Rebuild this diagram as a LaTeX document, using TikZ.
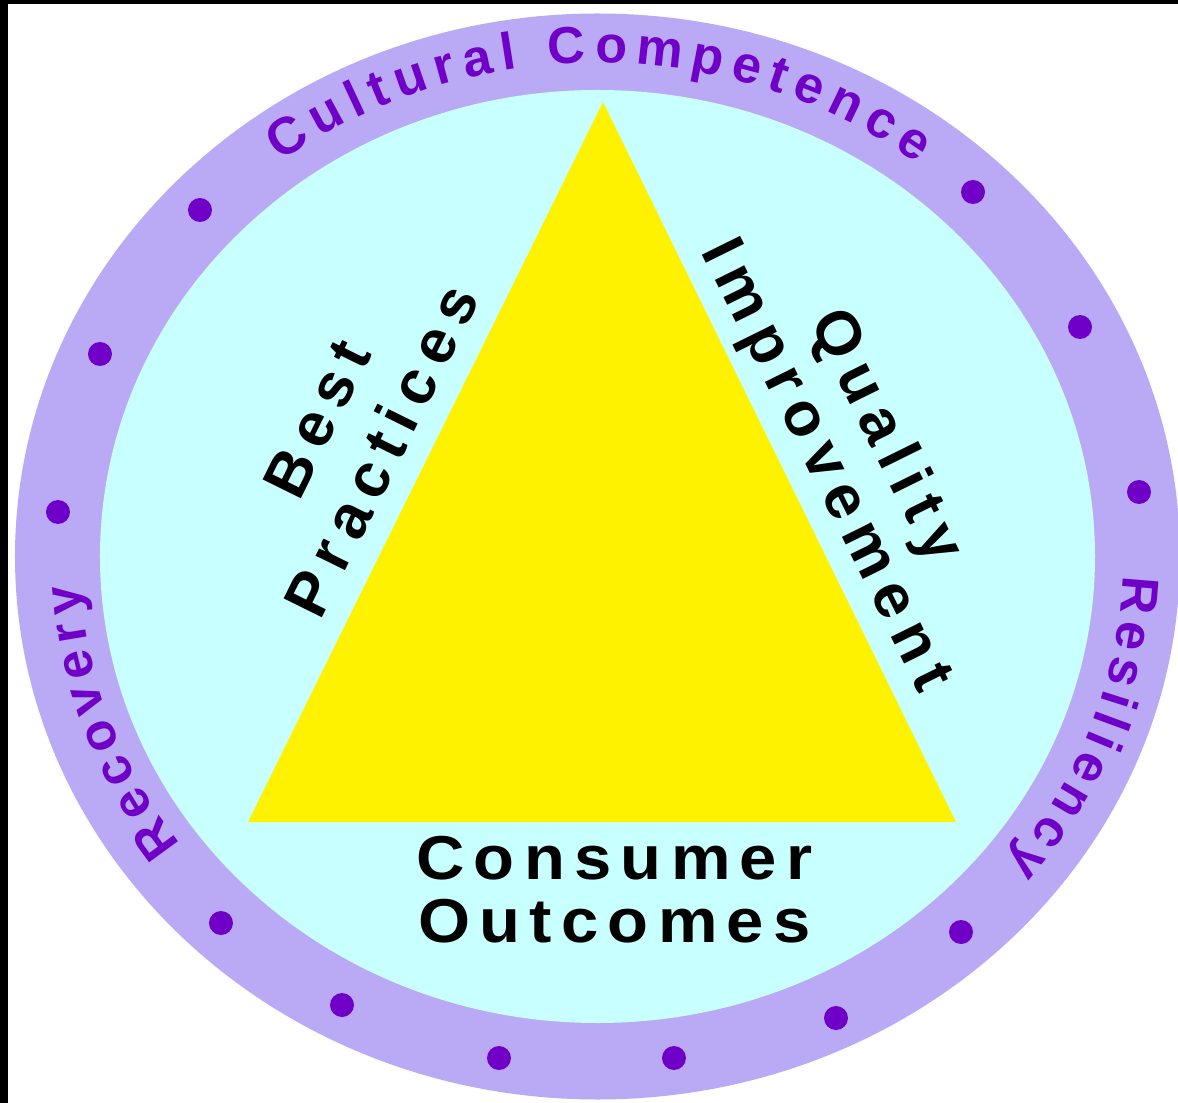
\documentclass[tikz,border=0pt]{standalone}
\usepackage{fontspec}
\setmainfont{Liberation Sans}
\newfontfamily\ringfont{Liberation Sans}
\newfontfamily\sidefont{Liberation Sans}[LetterSpace=17]
\newfontfamily\basefont{Liberation Sans}[LetterSpace=15,FakeStretch=1.08]
\usetikzlibrary{decorations.text}
\definecolor{ringlilac}{RGB}{186,170,246}
\definecolor{innercyan}{RGB}{200,255,255}
\definecolor{markpurple}{RGB}{112,0,200}
\begin{document}
\begin{tikzpicture}[x=1pt,y=1pt,
  dot/.style={circle,fill=markpurple,inner sep=0pt,minimum size=24pt},
  sidetext/.style={font=\sidefont\bfseries\fontsize{62}{#1}\selectfont,align=center,text=black,inner sep=0pt},
  basetext/.style={font=\basefont\bfseries\fontsize{62}{#1}\selectfont,align=center,text=black,inner sep=0pt},
  ringtext/.style={decorate,decoration={text along path,text color=markpurple,text align={fit to path},
    text={|\ringfont\bfseries\fontsize{52}{54}\selectfont|#1}}}
]
% page frame
\useasboundingbox (-597.5,-546.5) rectangle (580.5,556.5);
\clip (-597.5,-546.5) rectangle (580.5,556.5);
\fill[white] (-597.5,-546.5) rectangle (580.5,556.5);
\fill[black] (-597.5,552.5) rectangle (580.5,556.5);
\fill[black] (-597.5,-546.5) rectangle (-589.5,556.5);

% outer ring and inner disc
\fill[ringlilac] (0,0) ellipse [x radius=582.5,y radius=543];
\fill[innercyan] (0,0) ellipse [x radius=497.5,y radius=466.5];

% central triangle
\coordinate (apex) at (5.5,454.5);
\coordinate (baseL) at (-349.5,-265.5);
\coordinate (baseR) at (358.5,-265.5);
\fill[yellow] (apex) -- (baseR) -- (baseL) -- cycle;

% words along the ring
\path[ringtext={Cultural Competence}] (126.9:528 and 493.5) arc[start angle=126.9,end angle=52.7,x radius=528,y radius=493.5];
\path[ringtext={Recovery}] (216.5:518 and 484) arc[start angle=216.5,end angle=183.4,x radius=518,y radius=484];
\path[ringtext={Resiliency}] (-2.2:526 and 491) arc[start angle=-2.2,end angle=-38.8,x radius=526,y radius=491];

% dots on the ring
\foreach \i/\p in {1/{(-397.5,346.5)},2/{(-497.5,202.5)},3/{(-539.5,44.5)},4/{(-376.5,-366.5)},
  5/{(-255.5,-448.5)},6/{(-98.5,-501.5)},7/{(76.5,-501.5)},8/{(238.5,-461.5)},
  9/{(363.5,-375.5)},10/{(541.5,64.5)},11/{(482.5,229.5)},12/{(375.5,364.5)}}
  \node[dot] (dot\i) at \p {};

% labels round the triangle
\node[sidetext=72,rotate=63.7] (best) at (-247.9,121.8) {Best\\Practices};
\node[sidetext=66,rotate=-63.7] (quality) at (257,104.9) {Quality\\Improvement};
\node[basetext=63] (consumer) at (17,-333.5) {Consumer\\Outcomes};
\end{tikzpicture}
\end{document}
